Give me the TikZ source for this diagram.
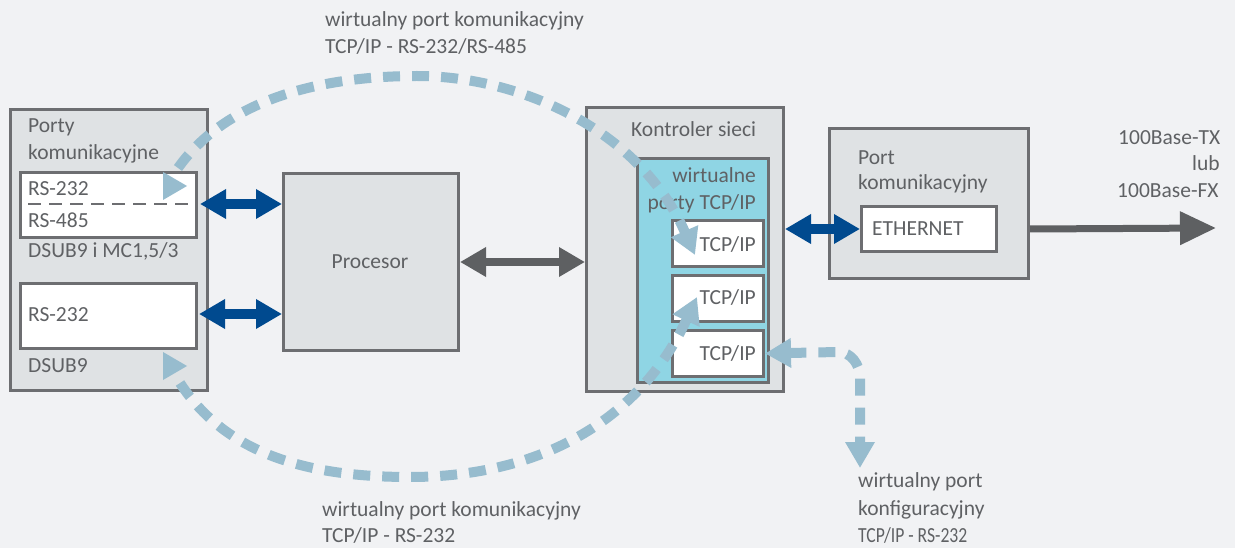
\documentclass[tikz,border=0pt]{standalone}
\usepackage{fontspec}
\setmainfont{Carlito}
\usetikzlibrary{arrows.meta}
\definecolor{bg}{HTML}{F1F2F4}
\definecolor{boxfill}{HTML}{DFE2E4}
\definecolor{boxline}{HTML}{6D6E71}
\definecolor{txt}{HTML}{5F6164}
\definecolor{cyanfill}{HTML}{8FD5E4}
\definecolor{dblue}{HTML}{004A8F}
\definecolor{dgrey}{HTML}{5E6062}
\definecolor{dashc}{HTML}{97BCCE}
\tikzset{
  gbox/.style={draw=boxline, line width=3pt, fill=boxfill, anchor=north west, inner sep=0pt},
  wbox/.style={draw=boxline, line width=3pt, fill=white, anchor=north west, inner sep=0pt},
  cbox/.style={draw=boxline, line width=3pt, fill=cyanfill, anchor=north west, inner sep=0pt},
  lbl/.style={text=txt, anchor=base west, inner sep=0pt, font=\fontsize{21.5}{26}\selectfont},
  lblr/.style={lbl, anchor=base east},
  bluearrow/.style={draw=dblue, line width=10pt, {Triangle[width=28pt,length=26pt]}-{Triangle[width=28pt,length=26pt]}},
  greyarrow/.style={draw=dgrey, line width=8pt, {Triangle[width=28pt,length=26pt]}-{Triangle[width=28pt,length=26pt]}},
  greyout/.style={draw=dgrey, line width=7pt, -{Triangle[width=32pt,length=36pt]}},
  dashline/.style={draw=dashc, line width=10pt, dash pattern=on 17pt off 12pt},
  dtip/.style={-{Triangle[width=28pt,length=26pt]}},
  dtips/.style={{Triangle[width=28pt,length=26pt]}-{Triangle[width=28pt,length=26pt]}},
}
\begin{document}
\begin{tikzpicture}[x=1pt,y=-1pt]
\fill[bg] (0,0) rectangle (1235,548);
\useasboundingbox (0,0) rectangle (1235,548);

% left ports box
\node[gbox, minimum width=197pt, minimum height=281pt] (ports) at (9,108) {};
\node[lbl] (portsT1) at (28,133) {Porty};
\node[lbl] (portsT2) at (28,160) {komunikacyjne};
\node[wbox, minimum width=176pt, minimum height=65pt] (rs1) at (19,171) {};
\draw[boxline, line width=2.5pt, dash pattern=on 13pt off 8pt] (28,204) coordinate (dl) -- (195,204) coordinate (dr);
\node[lbl] (rs1a) at (28,196) {RS-232};
\node[lbl] (rs1b) at (28,228) {RS-485};
\node[lbl] (dsub1) at (28,258) {DSUB9 i MC1,5/3};
\node[wbox, minimum width=176pt, minimum height=65pt] (rs2) at (19,282) {};
\node[lbl] (rs2a) at (28,322) {RS-232};
\node[lbl] (dsub2) at (28,372) {DSUB9};

% procesor
\node[gbox, minimum width=175pt, minimum height=177pt] (proc) at (282,172) {};
\node[text=txt, font=\fontsize{21.5}{26}\selectfont] (procT) at (370,262) {Procesor};

% kontroler
\node[gbox, minimum width=197pt, minimum height=284pt] (ctrl) at (585,106) {};
\node[lbl] (ctrlT) at (631,137) {Kontroler sieci};
\node[cbox, minimum width=131pt, minimum height=224pt] (virt) at (636,157) {};
\node[lblr] (virtT1) at (756,183) {wirtualne};
\node[lblr] (virtT2) at (756,210) {porty TCP/IP};
\node[wbox, minimum width=91pt, minimum height=46pt] (tcp1) at (671,219) {};
\node[wbox, minimum width=91pt, minimum height=46pt] (tcp2) at (671,274) {};
\node[wbox, minimum width=91pt, minimum height=46pt] (tcp3) at (671,329) {};
\node[lblr] (tcp1T) at (756,252) {TCP/IP};
\node[lblr] (tcp2T) at (756,305) {TCP/IP};
\node[lblr] (tcp3T) at (756,360) {TCP/IP};

% port komunikacyjny
\node[gbox, minimum width=199pt, minimum height=150pt] (pk) at (828,127) {};
\node[lbl] (pkT1) at (858,165) {Port};
\node[lbl] (pkT2) at (858,190) {komunikacyjny};
\node[wbox, minimum width=135pt, minimum height=45pt] (eth) at (860,205) {};
\node[lbl] (ethT) at (872,236) {ETHERNET};

% 100Base labels
\node[lbl] (b1) at (1118,145) {100Base-TX};
\node[lbl] (b2) at (1192,171) {lub};
\node[lbl] (b3) at (1117,198) {100Base-FX};
\coordinate (outend) at (1216,228);

% solid arrows
\draw[bluearrow] (rs1.east |- dl) ++(2,0) coordinate (a1s) (a1s) -- (proc.west |- dl);
\draw[bluearrow] (199,314) coordinate (a2s) -- (proc.west |- a2s);
\draw[greyarrow] (proc.east |- procT) -- (ctrl.west |- procT);
\draw[bluearrow] (ctrl.east |- eth.west) -- (eth.west);
\draw[greyout] (pk.east |- eth.west) -- (outend);

% dashed virtual connections
\coordinate (c1a) at (178,168);
\coordinate (c1top) at (417,76);
\coordinate (c1b) at (695,255);
\draw[dashline, dtip] (c1a) .. controls (230,95) and (330,76) .. (c1top) .. controls (520,76) and (640,130) .. (c1b);
\fill[dashc] (163,172) -- (187,186) -- (163,200) -- cycle;

\coordinate (c2a) at (180,383);
\coordinate (c2bot) at (410,477);
\coordinate (c2b) at (697,297);
\draw[dashline, dtip] (c2a) .. controls (230,460) and (320,477) .. (c2bot) .. controls (540,477) and (640,420) .. (c2b);
\fill[dashc] (163,352) -- (187,366) -- (163,380) -- cycle;

\coordinate (c3a) at (838,352);
\coordinate (c3b) at (860,468);
\draw[dashline, dtips] (tcp3.east) -- (c3a) to[out=0,in=90] (860,378) -- (c3b);

% captions
\node[lbl] (capTop1) at (325,27) {wirtualny port komunikacyjny};
\node[lbl] (capTop2) at (325,54) {TCP/IP - RS-232/RS-485};
\node[lbl] (capBot1) at (322,516) {wirtualny port komunikacyjny};
\node[lbl] (capBot2) at (322,542) {TCP/IP - RS-232};
\node[lbl] (capCfg1) at (858,487) {wirtualny port};
\node[lbl] (capCfg2) at (858,515) {konfiguracyjny};
\node[lbl] (capCfg3) at (858,542) {\scalebox{0.82}[1]{TCP/IP - RS-232}};
\end{tikzpicture}
\end{document}
